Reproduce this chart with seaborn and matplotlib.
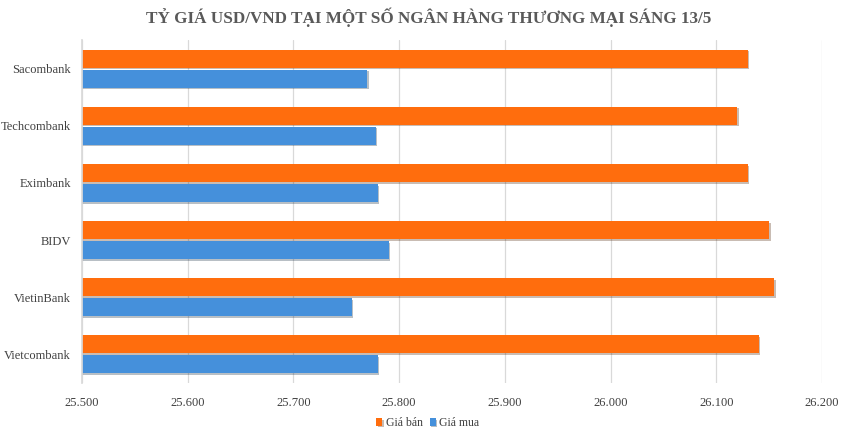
import matplotlib
matplotlib.use("Agg")
import matplotlib.pyplot as plt
import matplotlib.patheffects as pe
from matplotlib.ticker import FuncFormatter, MultipleLocator
import seaborn as sns
import pandas as pd

banks = ["Sacombank", "Techcombank", "Eximbank", "BIDV", "VietinBank", "Vietcombank"]
gia_ban = [26130, 26120, 26130, 26150, 26155, 26140]
gia_mua = [25770, 25778, 25780, 25790, 25755, 25780]
series = ["Giá bán", "Giá mua"]
colors = ["#FF6D0D", "#4590DB"]
title = "TỶ GIÁ USD/VND TẠI MỘT SỐ NGÂN HÀNG THƯƠNG MẠI SÁNG 13/5"

df = pd.DataFrame({
    "bank": banks * 2,
    "value": gia_ban + gia_mua,
    "series": [series[0]] * len(banks) + [series[1]] * len(banks),
})

sns.set_theme(style="white")
plt.rcParams["font.family"] = ["Liberation Serif", "DejaVu Serif"]

fig = plt.figure(figsize=(8.53, 4.36), dpi=100)
ax = fig.add_axes([82/853, 1 - 383/436, 740/853, 343/436])

sns.barplot(data=df, y="bank", x="value", hue="series", order=banks,
            hue_order=series, palette=colors, orient="h", width=0.7, gap=0.1,
            saturation=1, ax=ax, legend=True)

for p in ax.patches:
    p.set_linewidth(0)
    p.set_path_effects([pe.SimplePatchShadow(offset=(1.0, -1.2), alpha=0.3), pe.Normal()])

ax.set_xlim(25500, 26200)
ax.set_ylim(5.5, -0.5)
ax.xaxis.set_major_locator(MultipleLocator(100))
ax.xaxis.set_major_formatter(FuncFormatter(lambda v, _: f"{v:,.0f}".replace(",", ".")))
ax.grid(axis="x", color="#D9D9D9", linewidth=0.9)
ax.set_axisbelow(True)
for s in ["top", "right", "bottom"]:
    ax.spines[s].set_visible(False)
ax.spines["left"].set_color("#D9D9D9")
ax.set_xlabel("")
ax.set_ylabel("")
ax.tick_params(axis="both", length=0, labelsize=9, labelcolor="#404040")
ax.tick_params(axis="x", pad=10)
ax.tick_params(axis="y", pad=8)

handles, labels = ax.get_legend_handles_labels()
ax.get_legend().remove()
leg = fig.legend(handles, labels, loc="center", bbox_to_anchor=(428/853, 1 - 423/436), ncol=2,
                 frameon=False, fontsize=8.5, handlelength=0.5, handleheight=0.6,
                 handletextpad=0.3, columnspacing=0.6)
for t in leg.get_texts():
    t.set_color("#404040")

fig.text(429/853, 1 - 17/436, title, ha="center", va="center", fontsize=12.3,
         fontweight="bold", color="#595959")

fig.savefig("out.png", dpi=100, facecolor="white")
